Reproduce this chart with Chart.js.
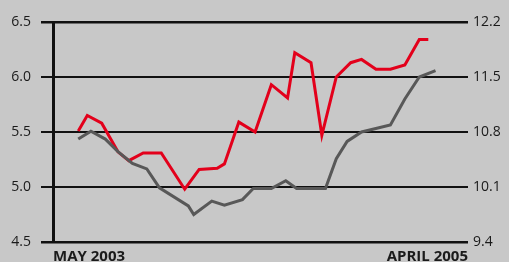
<!DOCTYPE html>
<html>
<head>
<meta charset="utf-8">
<script src="https://cdn.jsdelivr.net/npm/chart.js@4/dist/chart.umd.min.js"></script>
<style>
  html, body { margin: 0; padding: 0; background: #c8c8c8; }
  canvas { display: block; }
</style>
</head>
<body>
<canvas id="c" width="509" height="262"></canvas>
<script>
// Months since May 2003 (x position of each observation)
const redMonths  = [1.4, 1.9, 2.7, 3.6, 4.2, 5.0, 6.0, 7.3, 8.1, 9.1, 9.5, 10.3, 11.2, 12.1, 13.0, 13.4, 14.3, 14.9, 15.7, 16.5, 17.1, 17.9, 18.7, 19.5, 20.3, 20.8];
const redValues  = [5.51, 5.65, 5.58, 5.32, 5.24, 5.31, 5.31, 4.98, 5.16, 5.17, 5.21, 5.59, 5.50, 5.93, 5.81, 6.22, 6.13, 5.47, 6.00, 6.13, 6.16, 6.07, 6.07, 6.11, 6.34, 6.34];
const grayMonths = [1.4, 2.1, 2.9, 3.6, 4.4, 5.2, 5.9, 7.5, 7.8, 8.8, 9.5, 10.5, 11.1, 12.1, 12.9, 13.5, 15.1, 15.7, 16.3, 17.1, 18.7, 19.5, 20.3, 21.2];
const grayValues = [10.71, 10.81, 10.71, 10.55, 10.40, 10.33, 10.09, 9.86, 9.75, 9.92, 9.87, 9.94, 10.08, 10.08, 10.18, 10.08, 10.08, 10.46, 10.68, 10.80, 10.89, 11.22, 11.50, 11.58];
const leftTicks  = [4.5, 5.0, 5.5, 6.0, 6.5];
const rightTicks = [9.4, 10.1, 10.8, 11.5, 12.2];
const xTickValues = [0, 23];
const xTickLabels = ['MAY 2003', 'APRIL 2005'];

const toXY = (xs, ys) => xs.map((x, i) => ({ x: x, y: ys[i] }));

new Chart(document.getElementById('c'), {
  type: 'line',
  data: {
    datasets: [
      {
        data: toXY(grayMonths, grayValues),
        yAxisID: 'yR',
        borderColor: '#585858',
        borderWidth: 3,
        pointRadius: 0,
        tension: 0,
        fill: false
      },
      {
        data: toXY(redMonths, redValues),
        yAxisID: 'yL',
        borderColor: '#e3001b',
        borderWidth: 3,
        pointRadius: 0,
        tension: 0,
        fill: false
      }
    ]
  },
  options: {
    responsive: false,
    animation: false,
    devicePixelRatio: 1,
    layout: { padding: { top: 22, right: 0, bottom: 0, left: 0 } },
    plugins: { legend: { display: false }, tooltip: { enabled: false } },
    scales: {
      x: {
        type: 'linear',
        min: 0,
        max: 23,
        grid: { display: false, drawTicks: false },
        border: { display: false },
        afterBuildTicks: s => { s.ticks = xTickValues.map(v => ({ value: v })); },
        afterFit: s => { s.height = 20; },
        ticks: {
          align: 'inner',
          padding: 6,
          maxRotation: 0,
          autoSkip: false,
          color: '#1a1a1a',
          font: { family: 'Open Sans', size: 15, weight: 'bold' },
          callback: (v, i) => xTickLabels[i]
        }
      },
      yL: {
        position: 'left',
        min: 4.5,
        max: 6.5,
        afterBuildTicks: s => { s.ticks = leftTicks.map(v => ({ value: v })); },
        afterFit: s => { s.width = 53; },
        grid: {
          color: '#111',
          lineWidth: c => (c.index === 0 || c.index === 4) ? 2.5 : 2,
          drawTicks: true,
          tickLength: 12
        },
        border: { display: true, color: '#111', width: 3 },
        ticks: {
          padding: 10,
          color: '#1a1a1a',
          font: { family: 'Open Sans', size: 14 },
          callback: v => Number(v).toFixed(1)
        }
      },
      yR: {
        position: 'right',
        min: 9.4,
        max: 12.2,
        afterBuildTicks: s => { s.ticks = rightTicks.map(v => ({ value: v })); },
        afterFit: s => { s.width = 41; },
        grid: { display: false, drawTicks: false },
        border: { display: false },
        ticks: {
          padding: 5,
          color: '#1a1a1a',
          font: { family: 'Open Sans', size: 14 },
          callback: v => Number(v).toFixed(1)
        }
      }
    }
  }
});
</script>
</body>
</html>
